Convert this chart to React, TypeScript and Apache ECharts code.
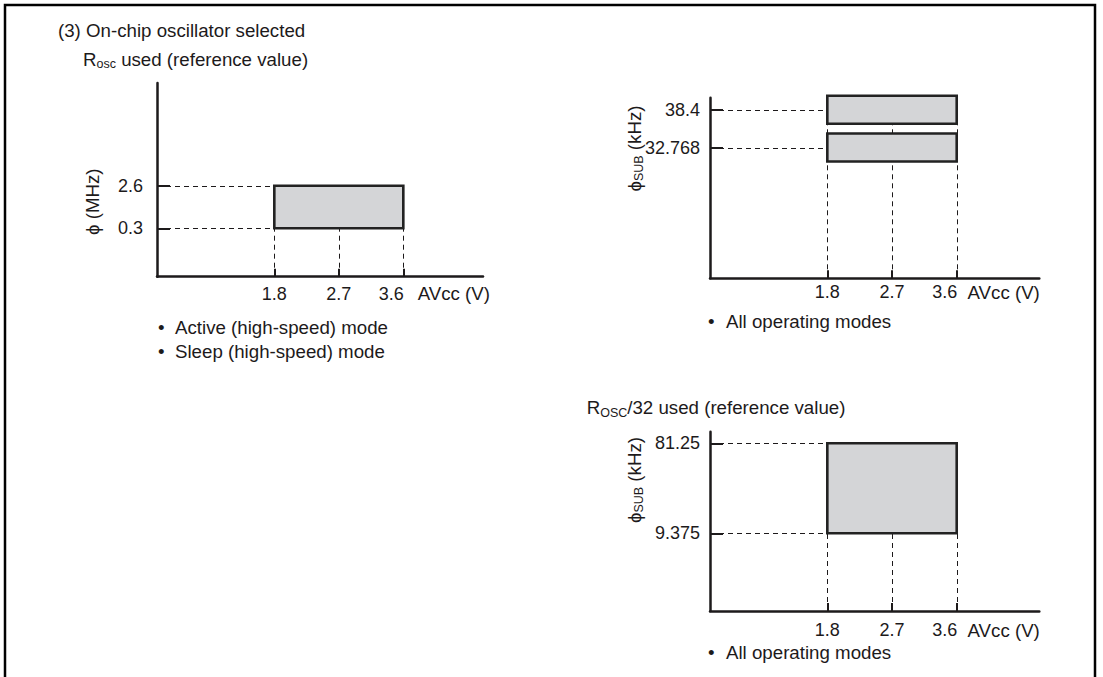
import React, { useEffect, useRef } from "react";
import * as echarts from "echarts";

// ---- data ----
const vccTicks = [1.8, 2.7, 3.6];
const vccRange = [1.8, 3.6];
const rOscFreqMHz = [0.3, 2.6];
const subFreqKHz = [38.4, 32.768];
const rOsc32FreqKHz = [9.375, 81.25];

const FONT = '"Liberation Sans", Arial, Helvetica, sans-serif';
const INK = "#1d1a1b";
const FILL = "#d4d5d7";
const BAND_HALF = 14;
const TXT = 18.7;

function xAxisCfg(grid: number, min: number, max: number, margin: number) {
  return {
    type: "value",
    gridIndex: grid,
    min,
    max,
    axisLine: { show: true, onZero: false, lineStyle: { color: INK, width: 2.5 } },
    axisTick: {
      show: true,
      inside: true,
      length: 8,
      customValues: vccTicks,
      lineStyle: { color: INK, width: 2 },
    },
    axisLabel: {
      show: true,
      customValues: vccTicks,
      margin,
      fontSize: 18,
      fontFamily: FONT,
      color: INK,
      formatter: (v: number) => (v === vccRange[1] ? `{e|${v}}` : `{n|${v}}`),
      rich: {
        n: { fontSize: 18, fontFamily: FONT, color: INK },
        e: { fontSize: 18, fontFamily: FONT, color: INK, padding: [0, 24, 0, 0] },
      },
    },
    splitLine: { show: false },
  };
}

function yAxisCfg(grid: number, min: number, max: number, values: number[], margin: number) {
  return {
    type: "value",
    gridIndex: grid,
    min,
    max,
    axisLine: { show: true, onZero: false, lineStyle: { color: INK, width: 2.5 } },
    axisTick: {
      show: true,
      inside: true,
      length: 13,
      customValues: values,
      lineStyle: { color: INK, width: 2 },
    },
    axisLabel: {
      show: true,
      customValues: values,
      margin,
      fontSize: 18,
      fontFamily: FONT,
      color: INK,
      formatter: (v: number) => String(v),
    },
    splitLine: { show: false },
  };
}

const dash = { stroke: INK, lineWidth: 1, lineDash: [5, 4] };

// horizontal dashed guide from the y axis to the left edge of the box
function hGuideSeries(axis: number, levels: number[]) {
  return {
    type: "custom",
    xAxisIndex: axis,
    yAxisIndex: axis,
    z: 1,
    silent: true,
    data: levels.map((y) => [vccRange[0], y]),
    renderItem: (params: any, api: any) => {
      const cs = params.coordSys;
      const p = api.coord([api.value(0), api.value(1)]);
      const y = Math.round(p[1]) + 0.5;
      return {
        type: "line",
        shape: { x1: cs.x, y1: y, x2: p[0], y2: y },
        style: dash,
      };
    },
  };
}

// vertical dashed guide from the x axis up to the top of the boxes
function vGuideSeries(axis: number, top: number, extraPx: number) {
  return {
    type: "custom",
    xAxisIndex: axis,
    yAxisIndex: axis,
    z: 1,
    silent: true,
    data: vccTicks.map((x) => [x, top]),
    renderItem: (params: any, api: any) => {
      const cs = params.coordSys;
      const p = api.coord([api.value(0), api.value(1)]);
      const x = Math.round(p[0]) + 0.5;
      return {
        type: "line",
        shape: { x1: x, y1: cs.y + cs.height, x2: x, y2: p[1] - extraPx },
        style: dash,
      };
    },
  };
}

// a box spanning a voltage range and a frequency range
function rangeBoxSeries(axis: number, range: number[]) {
  return {
    type: "custom",
    xAxisIndex: axis,
    yAxisIndex: axis,
    z: 3,
    silent: true,
    data: [[vccRange[0], vccRange[1], range[0], range[1]]],
    renderItem: (params: any, api: any) => {
      const a = api.coord([api.value(0), api.value(3)]);
      const b = api.coord([api.value(1), api.value(2)]);
      return {
        type: "rect",
        shape: { x: a[0], y: a[1], width: b[0] - a[0], height: b[1] - a[1] },
        style: { fill: FILL, stroke: "#222", lineWidth: 2.6 },
      };
    },
  };
}

// a band (fixed frequency) spanning a voltage range
function bandBoxSeries(axis: number, levels: number[]) {
  return {
    type: "custom",
    xAxisIndex: axis,
    yAxisIndex: axis,
    z: 3,
    silent: true,
    data: levels.map((y) => [vccRange[0], vccRange[1], y]),
    renderItem: (params: any, api: any) => {
      const a = api.coord([api.value(0), api.value(2)]);
      const b = api.coord([api.value(1), api.value(2)]);
      return {
        type: "rect",
        shape: { x: a[0], y: a[1] - BAND_HALF, width: b[0] - a[0], height: BAND_HALF * 2 },
        style: { fill: FILL, stroke: "#222", lineWidth: 2.6 },
      };
    },
  };
}

function txt(x: number, y: number, text: string, extra: any = {}) {
  return {
    type: "text",
    x,
    y,
    silent: true,
    ...extra,
    style: {
      text,
      fontSize: TXT,
      fontFamily: FONT,
      fill: INK,
      align: "left",
      verticalAlign: "middle",
      ...(extra.style || {}),
    },
  };
}

const richMain = { fontSize: TXT, fontFamily: FONT, fill: INK, verticalAlign: "middle" };
const richSub = { fontSize: 12.5, fontFamily: FONT, fill: INK, padding: [10, 0, 0, 0], verticalAlign: "middle" };

export default function App() {
  const ref = useRef<HTMLDivElement>(null);

  useEffect(() => {
    document.body.style.margin = "0";
    const chart = echarts.init(ref.current!, undefined, { renderer: "svg" });
    const option: any = {
      animation: false,
      backgroundColor: "#ffffff",
      grid: [
        { left: 157, top: 83, width: 326, height: 193.7, outerBoundsMode: "none" },
        { left: 710, top: 97.7, width: 329.3, height: 180.6, outerBoundsMode: "none" },
        { left: 710, top: 431.7, width: 329.3, height: 179.3, outerBoundsMode: "none" },
      ],
      xAxis: [
        xAxisCfg(0, 0.163, 4.712, 8),
        xAxisCfg(1, 0.168, 4.749, 5),
        xAxisCfg(2, 0.168, 4.749, 10),
      ],
      yAxis: [
        yAxisCfg(0, -2.313, 8.145, rOscFreqMHz, 14),
        yAxisCfg(1, 13.23, 40.21, subFreqKHz, 10),
        yAxisCfg(2, -52.68, 90.51, rOsc32FreqKHz, 10),
      ],
      series: [
        hGuideSeries(0, rOscFreqMHz),
        vGuideSeries(0, Math.min(...rOscFreqMHz), 0),
        rangeBoxSeries(0, rOscFreqMHz),
        hGuideSeries(1, subFreqKHz),
        vGuideSeries(1, Math.max(...subFreqKHz), BAND_HALF),
        bandBoxSeries(1, subFreqKHz),
        hGuideSeries(2, rOsc32FreqKHz),
        vGuideSeries(2, Math.min(...rOsc32FreqKHz), 0),
        rangeBoxSeries(2, rOsc32FreqKHz),
      ],
      graphic: [
        {
          type: "rect",
          silent: true,
          shape: { x: 5, y: 5, width: 1090, height: 700 },
          style: { fill: "none", stroke: "#000", lineWidth: 2.5 },
        },
        txt(58, 30, "(3) On-chip oscillator selected"),
        txt(83, 59, "{m|R}{s|osc}{m| used (reference value)}", {
          style: { rich: { m: richMain, s: richSub } },
        }),
        txt(92.5, 201.7, "ϕ (MHz)", {
          rotation: Math.PI / 2,
          style: { align: "center" },
        }),
        txt(417.7, 293.7, "AVcc (V)"),
        txt(158, 327, "•"),
        txt(175, 327, "Active (high-speed) mode"),
        txt(158, 351, "•"),
        txt(175, 351, "Sleep (high-speed) mode"),

        txt(634, 148.5, "{m|ϕ}{s|SUB}{m| (kHz)}", {
          rotation: Math.PI / 2,
          style: { align: "center", rich: { m: richMain, s: richSub } },
        }),
        txt(967.5, 292, "AVcc (V)"),
        txt(708, 321, "•"),
        txt(726, 321, "All operating modes"),

        txt(586.7, 407.5, "{m|R}{s|OSC}{m|/32 used (reference value)}", {
          style: { rich: { m: richMain, s: richSub } },
        }),
        txt(634, 480, "{m|ϕ}{s|SUB}{m| (kHz)}", {
          rotation: Math.PI / 2,
          style: { align: "center", rich: { m: richMain, s: richSub } },
        }),
        txt(967.5, 630.4, "AVcc (V)"),
        txt(708, 652, "•"),
        txt(726, 652, "All operating modes"),
      ],
    };
    chart.setOption(option);
    return () => chart.dispose();
  }, []);

  return (
    <div
      ref={ref}
      style={{ position: "absolute", left: 0, top: 0, width: 1103, height: 677 }}
    />
  );
}
